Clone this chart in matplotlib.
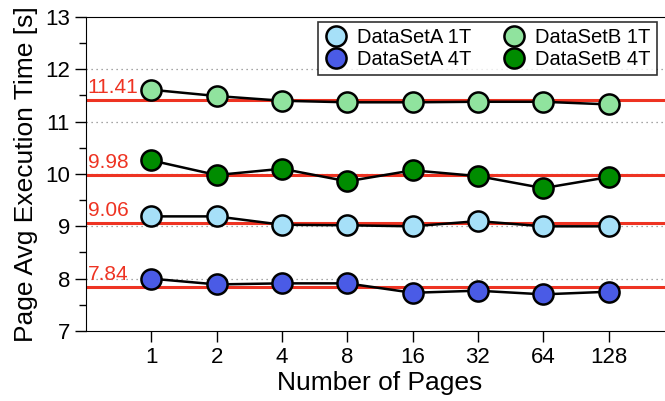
import matplotlib
matplotlib.use("Agg")
import matplotlib.pyplot as plt
from matplotlib.ticker import MultipleLocator
import numpy as np

plt.rcParams['font.family'] = ['Liberation Sans', 'DejaVu Sans']

pages = ["1", "2", "4", "8", "16", "32", "64", "128"]
a_1t = [9.19, 9.19, 9.03, 9.02, 9.00, 9.10, 9.00, 9.00]
a_4t = [8.00, 7.89, 7.91, 7.91, 7.73, 7.77, 7.70, 7.75]
b_1t = [11.61, 11.49, 11.40, 11.37, 11.37, 11.38, 11.38, 11.33]
b_4t = [10.26, 9.98, 10.10, 9.86, 10.07, 9.96, 9.73, 9.94]
averages = [11.41, 9.98, 9.06, 7.84]

series = [
    ("DataSetA 1T", a_1t, "#a6e0f8"),
    ("DataSetA 4T", a_4t, "#4a5be6"),
    ("DataSetB 1T", b_1t, "#90e39e"),
    ("DataSetB 4T", b_4t, "#008c00"),
]

fig = plt.figure(figsize=(6.65, 4.01), dpi=100)
ax = fig.add_axes([0.1293, 0.1746, 0.884, 0.783])
x = np.arange(len(pages))

for yv in range(8, 13):
    ax.axhline(yv, color="#888888", lw=0.9, ls=(0, (1, 3)), zorder=0)

for avg in averages:
    ax.axhline(avg, color="#ee3322", lw=2.2, zorder=1)
    ax.text(-0.975, avg + 0.06, f"{avg:.2f}", color="#ee3322", fontsize=15,
            ha="left", va="bottom", zorder=2)

for name, vals, col in series:
    ax.plot(x, vals, color="black", lw=1.8, marker="o", ms=14.5,
            mfc=col, mec="black", mew=1.8, label=name, zorder=3)

ax.set_xlim(-1, 8)
ax.set_ylim(7, 13)
ax.set_xticks(x)
ax.set_xticklabels(pages)
ax.yaxis.set_major_locator(MultipleLocator(1))
ax.yaxis.set_minor_locator(MultipleLocator(0.5))
ax.tick_params(axis="both", labelsize=16, direction="out", length=8, width=1)
ax.tick_params(axis="y", which="minor", length=5, width=1)
ax.spines["right"].set_visible(False)
ax.set_xlabel("Number of Pages", fontsize=19, labelpad=2)
ax.set_ylabel("Page Avg Execution Time [s]", fontsize=19, labelpad=5)

leg = ax.legend(ncol=2, loc="upper left", bbox_to_anchor=(0.3946, 0.984),
                borderaxespad=0, fontsize=14.5, frameon=True, fancybox=False,
                edgecolor="black", borderpad=0.3, labelspacing=0.15,
                handletextpad=0.45, columnspacing=1.5, handlelength=1.2)
leg.get_frame().set_linewidth(1.2)
for h in leg.legend_handles:
    h.set_linestyle("none")

fig.savefig("out.png", dpi=100)
